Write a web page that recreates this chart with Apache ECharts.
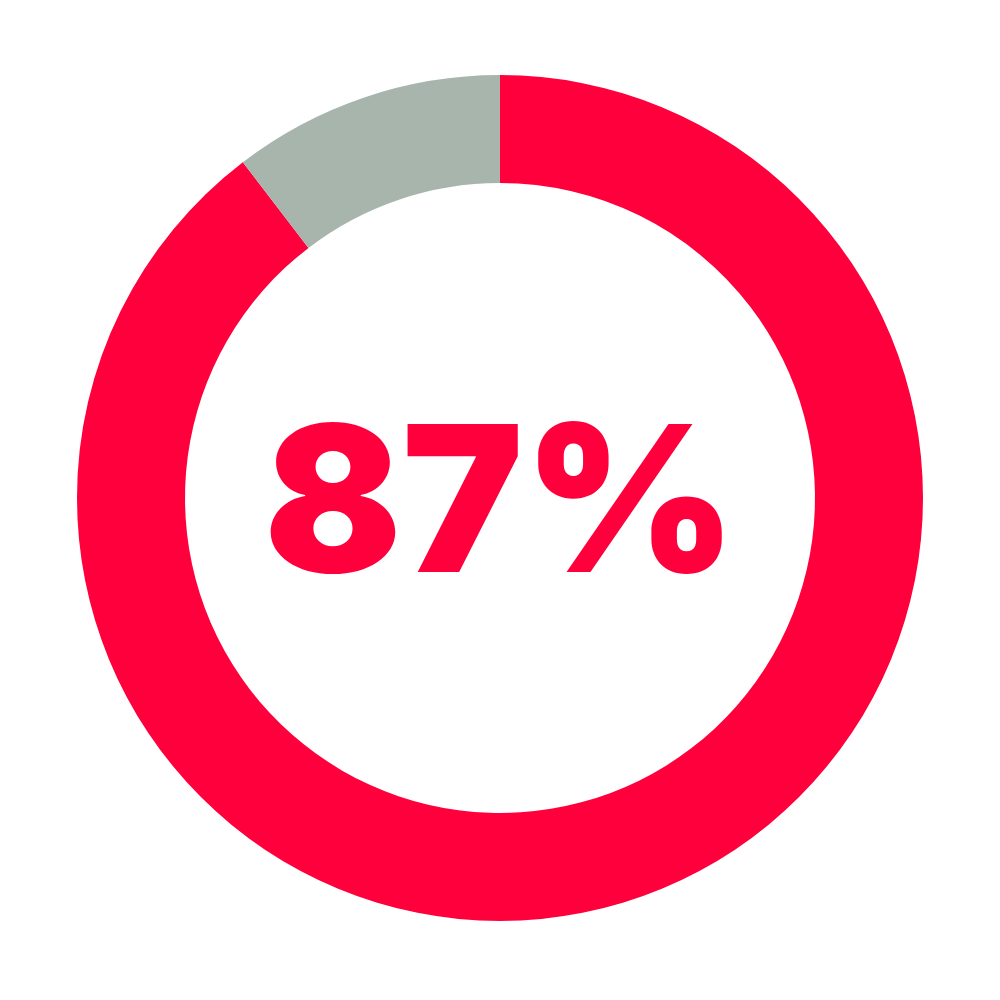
<!DOCTYPE html>
<html>
<head>
<meta charset="utf-8">
<script src="https://cdn.jsdelivr.net/npm/echarts@6/dist/echarts.min.js"></script>
<style>
  html, body { margin: 0; padding: 0; background: #fff; }
  #chart-panel { width: 1000px; height: 1000px; }
</style>
</head>
<body>
<div id="chart-panel"></div>
<script>
// slice shares as they appear on the ring (red runs clockwise from 12 o'clock)
var names = ['Yes', 'No'];
var values = [89.6, 10.4];
var colors = ['#ff003c', '#a7b5ad'];
var centerLabel = '87%';

var chart = document.getElementById('chart-panel');
var myChart = echarts.init(chart);

var option;

option = {
  backgroundColor: '#ffffff',
  animation: false,
  graphic: [
    {
      type: 'text',
      left: 'center',
      top: 409,
      silent: true,
      style: {
        text: centerLabel,
        fontFamily: 'Inter',
        fontWeight: 900,
        fontSize: 204,
        fill: '#ff003c'
      }
    }
  ],
  series: [
    {
      type: 'pie',
      center: [500, 498],
      radius: [315, 423],
      startAngle: 90,
      clockwise: true,
      silent: true,
      label: { show: false },
      labelLine: { show: false },
      itemStyle: { borderWidth: 0 },
      data: names.map(function (n, i) {
        return { name: n, value: values[i], itemStyle: { color: colors[i] } };
      })
    }
  ]
};

myChart.setOption(option);
</script>
</body>
</html>
